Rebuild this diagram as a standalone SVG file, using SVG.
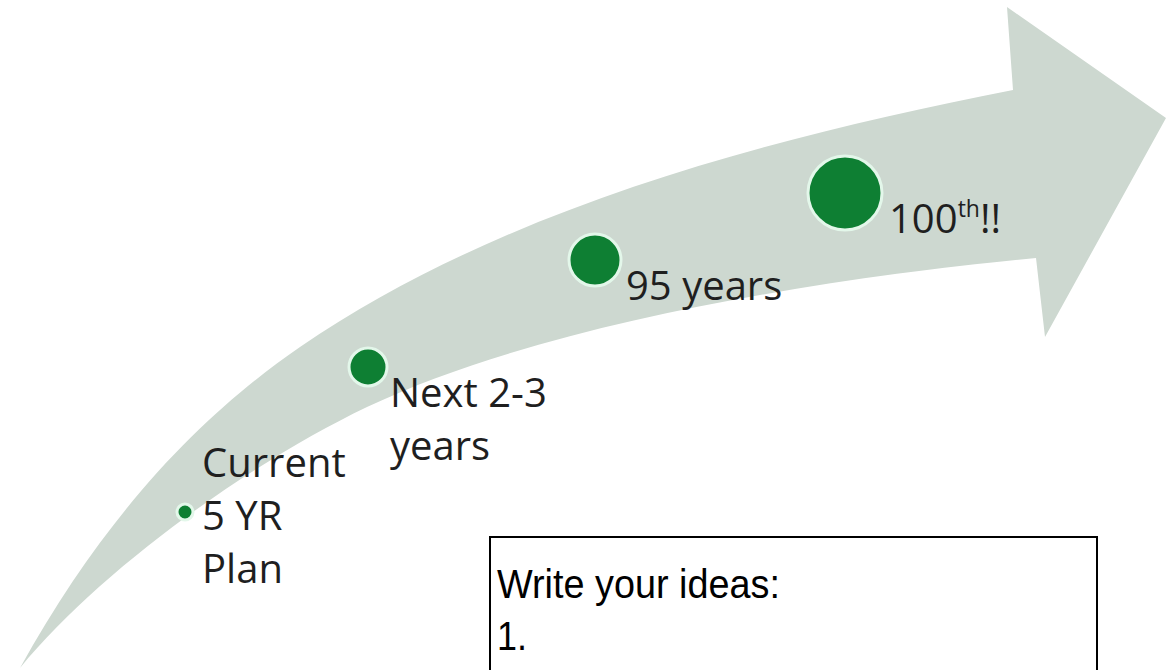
<svg xmlns="http://www.w3.org/2000/svg" width="1166" height="670" viewBox="0 0 1166 670">
<style>
.lbl{font-family:"Open Sans","Noto Sans",sans-serif;font-size:40px;fill:#1f1f1f}
.dot{fill:#0e7f33;stroke:#e3f7ea;stroke-width:3}
.box{fill:#ffffff;stroke:#000000;stroke-width:2}
.btxt{font-family:"Liberation Sans",Arial,sans-serif;font-size:41px;fill:#000000}
</style>
<rect width="1166" height="670" fill="#ffffff"/>
<g id="arrow">
<path d="M20,668 C110,505 210,409 300,347 C500,210 763,139 1013,90 L1007,7 L1166,118 L1045,337 L1036,258 C850,275 550,320 367,407 C250,463 100,570 20,668 Z" fill="#cdd8d0"/>
</g>
<g id="node-current">
<circle class="dot" cx="185" cy="512" r="8"/>
<text class="lbl" x="202" y="477">Current</text>
<text class="lbl" x="202" y="530">5 YR</text>
<text class="lbl" x="202" y="583">Plan</text>
</g>
<g id="node-next">
<circle class="dot" cx="368" cy="367" r="19"/>
<text class="lbl" x="390" y="407">Next 2-3</text>
<text class="lbl" x="390" y="460">years</text>
</g>
<g id="node-95">
<circle class="dot" cx="595" cy="260" r="26"/>
<text class="lbl" x="626" y="300">95 years</text>
</g>
<g id="node-100">
<circle class="dot" cx="845" cy="193" r="37"/>
<text class="lbl" x="889" y="233">100<tspan font-size="23" dy="-16">th</tspan><tspan dy="16">!!</tspan></text>
</g>
<g id="connectors"></g>
<g id="ideas-box">
<rect class="box" x="490" y="537" width="607" height="150"/>
<text class="btxt" x="497" y="598" textLength="283" lengthAdjust="spacingAndGlyphs">Write your ideas:</text>
<text class="btxt" x="497" y="650" textLength="30" lengthAdjust="spacingAndGlyphs">1.</text>
</g>
</svg>
